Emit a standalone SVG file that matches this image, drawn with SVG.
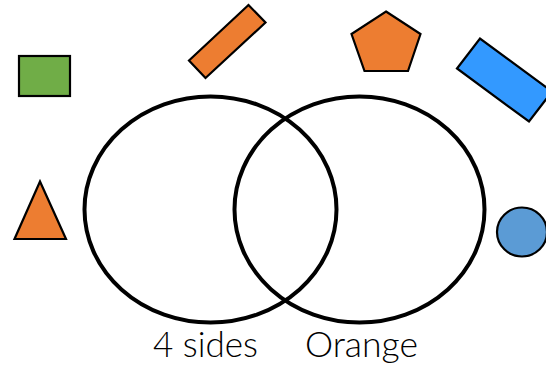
<svg xmlns="http://www.w3.org/2000/svg" width="546" height="368" viewBox="0 0 546 368">
<style>
.shape{stroke:#000;stroke-width:2.2;stroke-linejoin:miter}
.venn{fill:none;stroke:#000;stroke-width:4}
.lbl{font-family:Lato,"Liberation Sans",Arial,sans-serif;font-weight:300;font-size:35px;fill:#000}
</style>
<rect width="546" height="368" fill="#fff"/>
<g id="green-rect"><rect class="shape" x="19" y="56" width="51" height="40" fill="#70AD47"/></g>
<g id="orange-bar"><polygon class="shape" points="189,60.5 248.5,5 265.5,22.5 205.5,78" fill="#ED7D31"/></g>
<g id="pentagon"><polygon class="shape" points="386,11.5 420.5,34 408,71 364.5,71 351.5,34" fill="#ED7D31"/></g>
<g id="blue-bar"><polygon class="shape" points="457,68.5 480,38.5 552,91.5 529,121.5" fill="#3399FF"/></g>
<g id="triangle"><polygon class="shape" points="40,181.5 14.5,239 66,239" fill="#ED7D31"/></g>
<g id="blue-ellipse"><ellipse class="shape" cx="522" cy="232" rx="25" ry="24.5" fill="#5B9BD5"/></g>
<g id="venn-left"><ellipse class="venn" cx="210.5" cy="209.5" rx="126" ry="113"/><text class="lbl" x="153" y="357" textLength="105" lengthAdjust="spacingAndGlyphs">4 sides</text></g>
<g id="venn-right"><ellipse class="venn" cx="359.5" cy="209.5" rx="125" ry="113"/><text class="lbl" x="305" y="357" textLength="113" lengthAdjust="spacingAndGlyphs">Orange</text></g>
</svg>
